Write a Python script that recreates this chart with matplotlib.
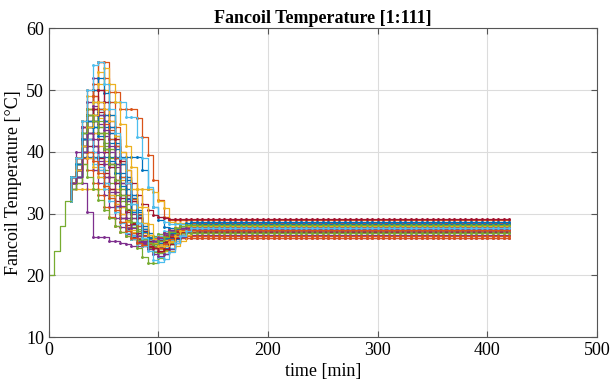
import matplotlib.pyplot as plt
import numpy as np

plt.rcParams['font.family'] = ['Liberation Serif', 'DejaVu Serif']

# sample times [min], one sample every 5 minutes up to 420
time_min = np.arange(0, 425, 5)

# common start-up ramp, t = 0..20 min (all fancoils identical here)
rise = [20, 24, 28, 32, 32]

# each fancoil from t = 20 min on (5-min steps); last value is held to the end
fancoil = [
    [35, 36, 39.2, 39.2, 39.2, 39.2, 39.2, 39.2, 39.2, 39.2, 39.2, 39.2, 39.2, 37, 34, 31, 29, 27.8, 27.6],
    [36, 38, 42, 46, 50, 54.5, 54.5, 49.7, 49.7, 47, 47, 47, 45.5, 42.4, 39.5, 35.4, 32.2, 29.5, 29.0],
    [34, 34, 34, 34, 34, 34, 34, 34, 34, 34, 34, 34, 34, 34, 34, 33.5, 32, 30.9, 28.6, 28.4],
    [35, 38, 35, 30.3, 26.2, 26.2, 26.2, 25.6, 25.6, 25.3, 25.0, 24.8, 24.8, 25.0, 25.3, 25.6, 25.8, 26.0],
    [35, 37, 41, 44, 46, 44, 41, 38, 35, 32, 29, 26.5, 24.5, 23, 22, 22, 22.8, 24, 25.2, 26.2, 26.8, 27.1],
    [35, 36, 42, 48, 48, 48, 48, 48, 48, 48, 45.7, 45.7, 42.4, 39, 34.3, 31, 29.5, 28.6, 28.3],
    [35, 38, 42, 45, 47, 46.5, 45, 43, 41, 39, 37, 35, 33, 31.5, 30.5, 29.8, 29.4, 29.2, 29.1],
    [35, 36, 40, 44, 46, 47, 45, 42, 39, 36, 33, 30.5, 28.5, 27, 26, 25.5, 25.5, 25.9, 26.3, 26.7, 27.0, 27.2],
    [35, 38, 42, 47, 51, 54.6, 52, 48, 44, 40, 36, 32.5, 29.5, 27, 25, 24, 23.8, 24.3, 25.1, 25.9, 26.6, 27.1, 27.4],
    [35, 38, 43, 47, 50, 53, 50, 46, 42, 38.5, 35, 32, 29.5, 27.5, 26, 25, 24.8, 25.3, 26, 26.7, 27.3, 27.6],
    [36, 39, 44, 48, 52, 50, 47, 44, 41, 38, 35, 32, 29.5, 27.5, 26, 25, 24.5, 24.8, 25.5, 26.2, 26.8, 27.1],
    [35, 36, 40, 42, 41, 39, 37, 35, 33, 31, 29.3, 27.8, 26.6, 25.8, 25.4, 25.4, 25.7, 26.1, 26.5, 26.8, 27.0],
    [35, 37, 42, 45, 44, 42, 40, 37.5, 35, 32.5, 30.2, 28.2, 26.6, 25.4, 24.5, 24, 24.2, 24.9, 25.7, 26.5, 27.1, 27.5],
    [36, 38, 43, 42, 40, 38, 36, 34, 32, 30, 28.2, 26.8, 25.8, 25.2, 25, 25.2, 25.7, 26.2, 26.7, 27.0],
    [35, 36, 40, 44, 47, 46, 44, 41.5, 39, 36.5, 34, 31.5, 29.3, 27.5, 26.2, 25.4, 25.2, 25.6, 26.3, 27, 27.6, 28, 28.2],
    [34, 35, 38, 40, 39, 37, 35, 33, 31, 29.2, 27.8, 26.8, 26.1, 25.8, 25.8, 25.9, 26.0, 26.1],
    [36, 39, 45, 49, 48, 45.5, 43, 40.5, 38, 35.5, 33, 30.5, 28.5, 26.8, 25.5, 24.6, 24.3, 24.7, 25.5, 26.3, 27.0, 27.5, 27.8],
    [35, 37, 41, 43, 45, 44.5, 42.5, 40, 37.5, 35, 32.5, 30, 28, 26.5, 25.3, 24.6, 24.6, 25.2, 26, 26.7, 27.1],
    [35, 38, 43, 46, 45, 43, 40.5, 38, 35.5, 33, 30.5, 28.3, 26.6, 25.5, 24.8, 24.6, 25, 25.7, 26.4, 27.1, 27.6],
    [36, 38, 42, 41, 39, 37, 35, 33, 31, 29.2, 27.7, 26.5, 25.6, 25.1, 25, 25.3, 25.8, 26.3, 26.8, 27.1],
    [35, 36, 39, 41, 43, 42, 40, 37.5, 35, 32.5, 30.2, 28.3, 26.8, 25.6, 24.8, 24.5, 24.8, 25.5, 26.2, 26.8, 27.3],
    [35, 37, 42, 46, 50, 52, 49.5, 46, 42.5, 39, 35.5, 32.5, 29.8, 27.5, 25.7, 24.4, 23.6, 23.5, 24.2, 25.2, 26.2, 27, 27.5],
    [36, 39, 44, 47, 49, 48, 46, 43.5, 41, 38, 35, 32.3, 30, 28, 26.5, 25.5, 25.1, 25.3, 26, 26.8, 27.5, 28.1, 28.5],
    [35, 37, 41, 44, 43, 41, 38.5, 36, 33.5, 31, 28.8, 27, 25.6, 24.7, 24.3, 24.4, 25, 25.7, 26.4, 27, 27.3],
    [34, 36, 40, 39, 37, 35, 33, 31, 29.2, 27.8, 26.7, 25.9, 25.4, 25.3, 25.5, 25.9, 26.3, 26.6],
    [35, 38, 43, 47, 46, 44, 41.5, 39, 36.5, 34, 31.5, 29.3, 27.5, 26.1, 25.1, 24.7, 24.8, 25.4, 26.1, 26.9, 27.5, 27.8],
    [35, 37, 41, 45, 48, 47, 45, 42, 39, 36, 33, 30.3, 28, 26, 24.5, 23.4, 23, 23.4, 24.4, 25.5, 26.5, 27.3, 27.8],
    [36, 39, 44, 43, 41, 39, 36.5, 34, 31.5, 29.3, 27.5, 26.2, 25.2, 24.7, 24.6, 25, 25.6, 26.3, 26.9, 27.2],
    [35, 37, 40, 42, 44, 46, 45, 43, 40.5, 38, 35.5, 33, 30.5, 28.5, 26.8, 25.6, 25.2, 25.4, 26, 26.7, 27.4, 27.9, 28.2],
    [35, 36, 39, 37, 35, 33, 31, 29.4, 28, 27, 26.3, 25.8, 25.6, 25.6, 25.8, 26.0, 26.2, 26.3],
    [35, 38, 42, 45, 48, 51, 53.5, 51, 48, 44.5, 41, 37.5, 34, 31, 28.3, 26.2, 24.8, 24, 24, 24.7, 25.6, 26.5, 27.1, 27.4],
    [36, 40, 44, 43, 41, 38.5, 36, 33.5, 31.2, 29.2, 27.6, 26.4, 25.5, 25.1, 25.1, 25.5, 26.1, 26.7, 27.2, 27.5],
    [35, 37, 41, 44, 46, 45, 43, 40.5, 38, 35, 32, 29.3, 27.2, 25.6, 24.4, 23.7, 23.6, 24.1, 25, 26, 26.8, 27.3],
    [34, 36, 41, 40, 38, 36, 34, 32, 30.2, 28.6, 27.3, 26.3, 25.7, 25.5, 25.7, 26.2, 26.7, 27.1, 27.4],
    [35, 37, 42, 46, 45, 43, 40.5, 38, 35.5, 33, 30.6, 28.5, 26.8, 25.5, 24.7, 24.4, 24.7, 25.4, 26.2, 27, 27.6, 27.9],
    [35, 36, 40, 43, 45, 47, 46, 44, 41.5, 39, 36, 33, 30.3, 28, 26.2, 25, 24.4, 24.5, 25.1, 25.9, 26.8, 27.6, 28.1, 28.3],
    [36, 39, 45, 50, 49, 47, 44.5, 42, 39, 36, 33, 30.3, 28, 26.3, 25.1, 24.5, 24.5, 25.1, 25.9, 26.7, 27.4, 27.8],
    [35, 37, 40, 39, 37.5, 36, 34.5, 33, 31.5, 30, 28.6, 27.4, 26.4, 25.8, 25.6, 25.8, 26.3, 26.9, 27.4, 27.8, 28],
    [35, 37, 42, 45, 47.5, 46, 43.5, 41, 38, 35, 32, 29.3, 27.1, 25.4, 24.2, 23.4, 23.1, 23.4, 24.2, 25.2, 26.2, 27, 27.4],
    [34, 35, 38, 36, 34, 32.2, 30.6, 29.2, 28, 27, 26.3, 25.8, 25.7, 25.8, 26.1, 26.4, 26.7, 26.8],
    [35, 38, 43, 42, 40, 37.5, 35, 32.5, 30.3, 28.4, 26.9, 25.8, 25.1, 24.8, 25, 25.6, 26.3, 26.9, 27.4, 27.7],
    [35, 37, 41, 44, 47, 50, 48, 45, 42, 38.5, 35, 32, 29.3, 27.2, 25.6, 24.5, 24, 24.3, 25.1, 26.1, 27, 27.6],
    [36, 38, 42, 45, 44, 42.5, 40.5, 38.5, 36.5, 34.5, 32.3, 30.2, 28.4, 27, 26, 25.5, 25.6, 26.1, 26.8, 27.5, 28, 28.4, 28.6],
    [35, 37, 41, 40, 38.5, 36.5, 34.5, 32.5, 30.5, 28.7, 27.2, 26.1, 25.3, 24.9, 25, 25.5, 26.2, 26.8, 27.3],
    [35, 37, 41, 44, 46, 48, 47, 45, 42.5, 40, 37, 34, 31, 28.5, 26.6, 25.3, 24.7, 24.8, 25.4, 26.3, 27.1, 27.7, 28],
    [35, 36, 40, 43, 42, 40, 38, 36, 33.5, 31.2, 29.2, 27.6, 26.4, 25.6, 25.3, 25.5, 26.1, 26.8, 27.4, 27.7],
    [36, 39, 43, 46, 45, 43, 40.5, 38, 35.5, 33, 30.7, 28.7, 27.1, 25.9, 25.2, 25.1, 25.5, 26.2, 27, 27.6, 28, 28.2],
    [36, 39, 45, 50, 54, 54.6, 51, 47, 43, 39, 35, 31.5, 28.5, 26, 24, 22.5, 22.2, 22.7, 23.8, 25.2, 26.4, 27.2, 27.6],
]

matlab_colors = ['#0072BD', '#D95319', '#EDB120', '#7E2F8E', '#77AC30', '#4DBEEE', '#A2142F']

fig = plt.figure(figsize=(6.11, 3.83), dpi=100)
ax = fig.add_axes([0.080, 0.120, 0.897, 0.806])

n_rise = len(rise)
for i, vals in enumerate(fancoil):
    y = [rise[-1]] + vals
    y = y + [y[-1]] * (len(time_min) - n_rise - len(y) + 2)
    x = np.concatenate([[time_min[n_rise - 1]], time_min[n_rise - 1:]])[:len(y)]
    ax.step(x, y, where='post', color=matlab_colors[i % 7], lw=0.9,
            marker='.', ms=2.2)

# shared ramp drawn once, on top
ax.step(time_min[:n_rise], rise, where='post', color='#77AC30', lw=0.9)

ax.set_xlim(0, 500)
ax.set_ylim(10, 60)
ax.set_xticks(np.arange(0, 501, 100))
ax.set_yticks(np.arange(10, 61, 10))
ax.grid(True, color='#dcdcdc', lw=0.8)
ax.set_axisbelow(True)
ax.tick_params(direction='in', top=True, right=True, labelsize=13, length=4,
               color='#555555')
for s in ax.spines.values():
    s.set_color('#555555')
    s.set_linewidth(0.8)

ax.set_title('Fancoil Temperature [1:111]', fontsize=13, fontweight='bold', pad=4)
ax.set_xlabel('time [min]', fontsize=13, labelpad=3)
ax.set_ylabel('Fancoil Temperature [°C]', fontsize=13, labelpad=3)

fig.savefig('out.png', dpi=100)
